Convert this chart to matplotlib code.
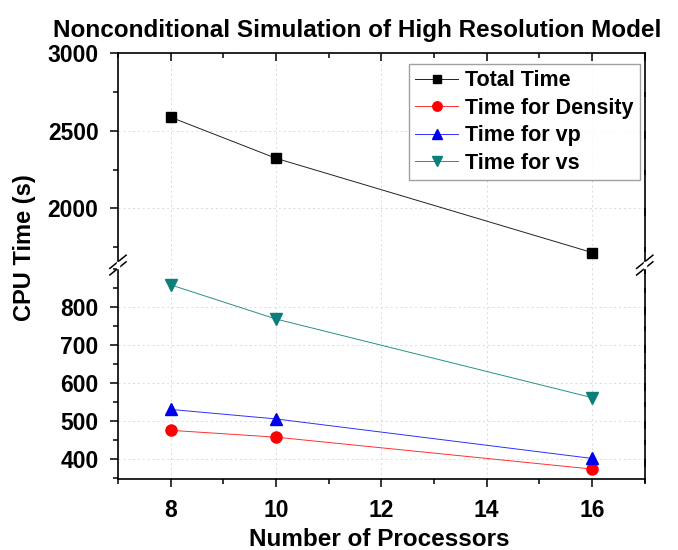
import matplotlib
matplotlib.use("Agg")
import matplotlib.pyplot as plt
from matplotlib.ticker import MultipleLocator
from matplotlib.lines import Line2D

plt.rcParams['font.family'] = ['Liberation Sans', 'DejaVu Sans']
plt.rcParams['font.weight'] = 'bold'

processors = [8, 10, 16]
total_time = [2588, 2323, 1715]
time_density = [476, 458, 374]
time_vp = [531, 506, 402]
time_vs = [859, 769, 562]

fig = plt.figure(figsize=(6.78, 5.5), dpi=100)
ax_top = fig.add_axes([0.174, 0.518, 0.777, 0.385])
ax_bot = fig.add_axes([0.174, 0.1285, 0.777, 0.3895], sharex=ax_top)

ax_top.plot(processors, total_time, color='#222222', lw=0.7, marker='s', ms=7,
            mfc='black', mec='black', label='Total Time')
ax_bot.plot(processors, time_density, color='#ff3030', lw=0.7, marker='o', ms=8,
            mfc='red', mec='red', label='Time for Density')
ax_bot.plot(processors, time_vp, color='#3030ff', lw=0.7, marker='^', ms=8,
            mfc='#0000ee', mec='#0000ee', label='Time for vp')
ax_bot.plot(processors, time_vs, color='#2a8f88', lw=0.7, marker='v', ms=8,
            mfc='#0b7f7a', mec='#0b7f7a', label='Time for vs')

ax_top.set_xlim(7, 17)
ax_top.set_ylim(1634, 3000)
ax_bot.set_ylim(347, 911)

ax_top.set_yticks([2000, 2500, 3000])
ax_top.yaxis.set_minor_locator(MultipleLocator(250))
ax_bot.set_yticks([400, 500, 600, 700, 800])
ax_bot.yaxis.set_minor_locator(MultipleLocator(50))
ax_bot.set_xticks([8, 10, 12, 14, 16])
ax_bot.xaxis.set_minor_locator(MultipleLocator(1))

for ax in (ax_top, ax_bot):
    ax.grid(True, which='major', linestyle=(0, (2, 3)), color='#dadada', lw=0.7)
    for s in ax.spines.values():
        s.set_linewidth(1.2)
    ax.tick_params(axis='y', which='both', left=True, right=True, labelsize=16.5,
                   width=1.1, pad=8)
    ax.tick_params(axis='y', which='major', length=6)
    ax.tick_params(axis='y', which='minor', length=3.5)
    ax.tick_params(axis='x', which='major', length=6, width=1.1, labelsize=16.5,
                   pad=8)
    ax.tick_params(axis='x', which='minor', length=3.5, width=1.1)

ax_top.spines['bottom'].set_visible(False)
ax_bot.spines['top'].set_visible(False)
ax_top.tick_params(axis='x', which='both', bottom=False, labelbottom=False,
                   top=True, direction='in')
ax_bot.tick_params(axis='x', which='both', top=False, bottom=True, direction='out')
for ax in (ax_top, ax_bot):
    ax.tick_params(axis='y', which='both', direction='out')
    for t in ax.yaxis.get_major_ticks() + ax.yaxis.get_minor_ticks():
        t.tick2line.set_marker(3)  # inward on right side

# break marks on both spines
bx = 0.012
by = 0.012
for xs in (0.0, 1.0):
    for dy in (-0.006, 0.006):
        fig.add_artist(Line2D([0.174 + 0.777 * xs - bx, 0.174 + 0.777 * xs + bx],
                              [0.518 + dy - by, 0.518 + dy + by],
                              color='black', lw=1.1))
    fig.add_artist(Line2D([0.174 + 0.777 * xs, 0.174 + 0.777 * xs],
                          [0.518 - 0.004, 0.518 + 0.004], color='white', lw=2.5))

handles = ax_top.get_legend_handles_labels()[0] + ax_bot.get_legend_handles_labels()[0]
leg = ax_top.legend(handles=handles, loc='upper right', bbox_to_anchor=(0.99, 0.95),
                    fontsize=15.5, frameon=True, fancybox=False, edgecolor='#888888',
                    handlelength=2.0, handletextpad=0.3, labelspacing=0.3,
                    borderpad=0.3, borderaxespad=0, markerscale=0.85)
leg.get_frame().set_linewidth(1.0)

fig.text(0.527, 0.945, 'Nonconditional Simulation of High Resolution Model',
         ha='center', va='center', fontsize=17.5, fontweight='bold')
fig.text(0.036, 1 - 248 / 550, 'CPU Time (s)', rotation=90, ha='center',
         va='center', fontsize=17, fontweight='bold')
fig.text(0.56, 1 - 539 / 550, 'Number of Processors', ha='center', va='center',
         fontsize=17.5, fontweight='bold')

fig.savefig('out.png', dpi=100)
